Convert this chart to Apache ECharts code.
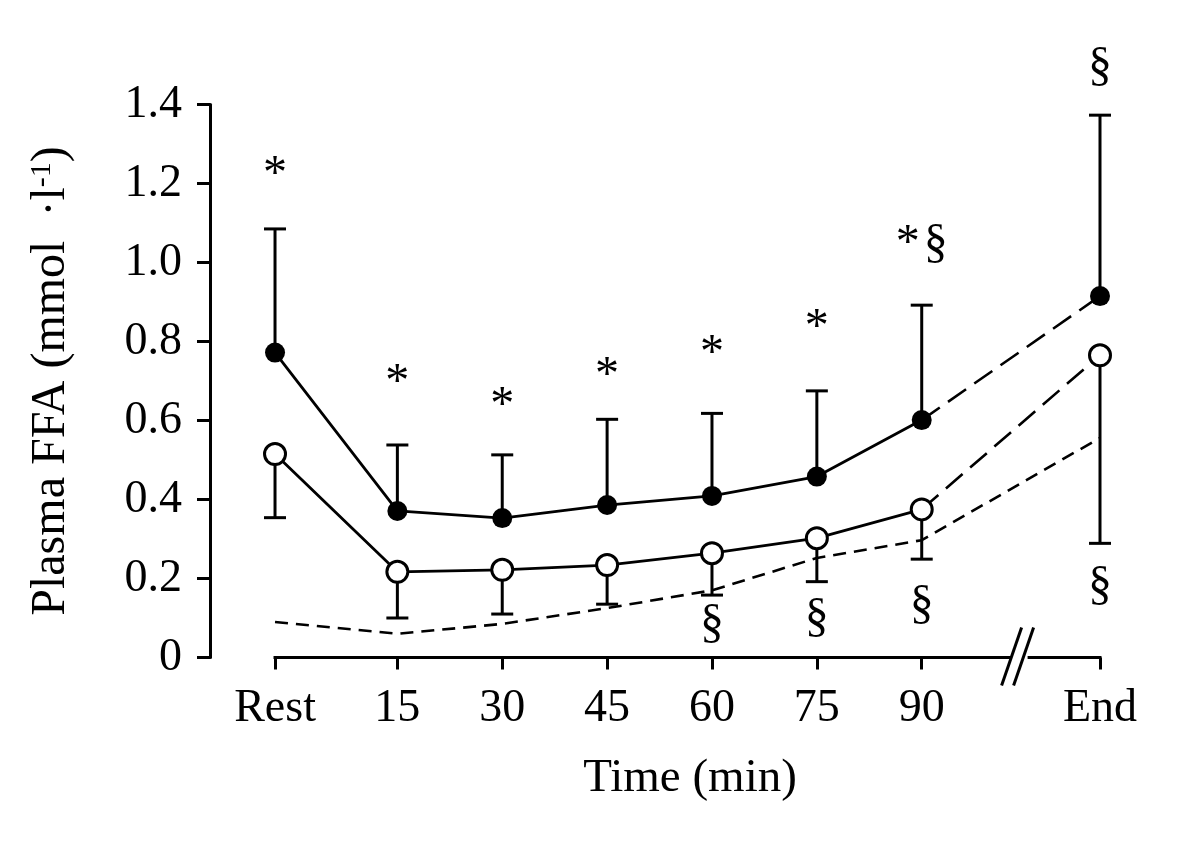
<!DOCTYPE html>
<html>
<head>
<meta charset="utf-8">
<script src="https://cdn.jsdelivr.net/npm/echarts@6/dist/echarts.min.js"></script>
<style>html,body{margin:0;padding:0;background:#fff;}#c{width:1200px;height:844px;}</style>
</head>
<body>
<div id="c"></div>
<script>
// ---- data ----
const catLabels = ['Rest', '15', '30', '45', '60', '75', '90', 'End'];
const xPos = [-2.5, 15, 30, 45, 60, 75, 90, 115.5];          // plotting position (min)
const xAxisStart = -11.8;                                     // axis range begins left of Rest
const filledMean = [0.772, 0.371, 0.353, 0.386, 0.409, 0.458, 0.601, 0.915];
const filledSD   = [0.313, 0.167, 0.160, 0.217, 0.209, 0.217, 0.291, 0.458];
const openMean   = [0.515, 0.217, 0.222, 0.234, 0.264, 0.302, 0.375, 0.765];
const openSD     = [0.161, 0.117, 0.112, 0.099, 0.106, 0.110, 0.126, 0.476];
const thirdLine  = [0.090, 0.060, 0.085, 0.125, 0.170, 0.252, 0.297, 0.556];
const aboveMarks = ['*', '*', '*', '*', '*', '*', '*\u200A§', '§'];
const aboveY     = [1.242, 0.713, 0.657, 0.733, 0.787, 0.854, 1.057, 1.495];
const belowMarks = ['', '', '', '', '§', '§', '§', '§'];
const belowY     = [null, null, null, null, 0.085, 0.098, 0.133, 0.180];
const breakAt = 104;

const FONT = "'Liberation Serif', 'Times New Roman', serif";
const lastSolid = 6;

const pts = (ys, from, to) => xPos.slice(from, to).map((x, i) => [x, ys[from + i]]);
const errUp = xPos.map((x, i) => [x, filledMean[i], filledMean[i] + filledSD[i]]);
const errDown = xPos.map((x, i) => [x, openMean[i], openMean[i] - openSD[i]]);
const annAbove = xPos.map((x, i) => [x, aboveY[i], aboveMarks[i]]);
const annBelow = xPos.map((x, i) => [x, belowY[i], belowMarks[i]]).filter(d => d[1] !== null);
const annTexts = [annAbove.map(d => d[2]), annBelow.map(d => d[2])];
const annSeriesAbove = 9;

function errRender(params, api) {
  const x = api.value(0), a = api.value(1), b = api.value(2);
  const p0 = api.coord([x, a]), p1 = api.coord([x, b]);
  return {
    type: 'group',
    children: [
      { type: 'line', shape: { x1: p0[0], y1: p0[1], x2: p1[0], y2: p1[1] }, style: { stroke: '#000', lineWidth: 3 } },
      { type: 'line', shape: { x1: p1[0] - 11, y1: p1[1], x2: p1[0] + 11, y2: p1[1] }, style: { stroke: '#000', lineWidth: 3 } }
    ]
  };
}

// annotation glyphs placed at data coordinates; '*' glyph sits high in the em box, nudge it down
function annRender(params, api) {
  const p = api.coord([api.value(0), api.value(1)]);
  const txt = annTexts[params.seriesIndex === annSeriesAbove ? 0 : 1][params.dataIndex];
  const nudge = txt.charAt(0) === '*' && txt.length === 1 ? 8 : (txt.length > 1 ? 4 : 0);
  return {
    type: 'text',
    x: p[0], y: p[1] + nudge,
    style: { text: txt, fill: '#000', font: '48px ' + FONT, align: 'center', verticalAlign: 'middle' }
  };
}

const chart = echarts.init(document.getElementById('c'), null, { renderer: 'canvas' });
const lineBase = { type: 'line', showSymbol: false, symbol: 'none', silent: true, z: 2 };

chart.setOption({
  backgroundColor: '#fff',
  animation: false,
  grid: { left: 210, right: 100, top: 104.5, bottom: 186.5, containLabel: false, outerBoundsMode: 'none' },
  xAxis: {
    type: 'value', min: xAxisStart, max: xPos[xPos.length - 1],
    name: 'Time (min)', nameLocation: 'middle', nameGap: 98,
    nameTextStyle: { fontFamily: FONT, fontSize: 47, color: '#000', padding: [0, 0, 0, 70] },
    axisLine: { show: false, onZero: false },
    axisTick: { show: true, inside: false, length: 12, lineStyle: { color: '#000', width: 3 }, customValues: xPos },
    axisLabel: {
      show: true, margin: 28, color: '#000', fontFamily: FONT, fontSize: 46, customValues: xPos,
      formatter: v => { const i = xPos.indexOf(v); return i >= 0 ? catLabels[i] : ''; }
    },
    splitLine: { show: false }
  },
  yAxis: {
    type: 'value', min: 0, max: 1.4, interval: 0.2,
    name: 'Plasma FFA (mmol  ·l{sup|-1})', nameLocation: 'middle', nameGap: 135,
    nameTextStyle: {
      fontFamily: FONT, fontSize: 48, color: '#000',
      rich: { sup: { fontFamily: FONT, fontSize: 30, color: '#000', verticalAlign: 'top', padding: [0, 0, 16, 0] } }
    },
    axisLine: { show: true, onZero: false, lineStyle: { color: '#000', width: 3 } },
    axisTick: { show: true, inside: false, length: 13, lineStyle: { color: '#000', width: 3 } },
    axisLabel: {
      show: true, margin: 28, color: '#000', fontFamily: FONT, fontSize: 46,
      formatter: v => (v === 0 ? '0' : v.toFixed(1))
    },
    splitLine: { show: false }
  },
  series: [
    Object.assign({}, lineBase, { data: pts(thirdLine, 0, xPos.length), lineStyle: { color: '#000', width: 2.6, type: [13, 8] } }),
    Object.assign({}, lineBase, { data: pts(filledMean, 0, lastSolid + 1), lineStyle: { color: '#000', width: 2.8 } }),
    Object.assign({}, lineBase, { data: pts(filledMean, lastSolid, xPos.length), lineStyle: { color: '#000', width: 2.6, type: [22, 10] } }),
    Object.assign({}, lineBase, { data: pts(openMean, 0, lastSolid + 1), lineStyle: { color: '#000', width: 2.8 } }),
    Object.assign({}, lineBase, { data: pts(openMean, lastSolid, xPos.length), lineStyle: { color: '#000', width: 2.6, type: [22, 10] } }),
    { type: 'custom', renderItem: errRender, data: errUp, z: 3, silent: true, clip: false },
    { type: 'custom', renderItem: errRender, data: errDown, z: 3, silent: true, clip: false },
    { type: 'scatter', data: pts(filledMean, 0, xPos.length), symbol: 'circle', symbolSize: 20, z: 5,
      itemStyle: { color: '#000', borderColor: '#000', borderWidth: 0, opacity: 1 }, silent: true },
    { type: 'scatter', data: pts(openMean, 0, xPos.length), symbol: 'circle', symbolSize: 21, z: 5,
      itemStyle: { color: '#fff', borderColor: '#000', borderWidth: 3, opacity: 1 }, silent: true },
    { type: 'custom', renderItem: annRender, data: annAbove.map(d => [d[0], d[1]]), clip: false, z: 6, silent: true },
    { type: 'custom', renderItem: annRender, data: annBelow.map(d => [d[0], d[1]]), clip: false, z: 6, silent: true }
  ]
});

// x-axis baseline from Rest to End, and the axis break marks "//"
const x0 = chart.convertToPixel({ xAxisIndex: 0 }, xPos[0]);
const x1 = chart.convertToPixel({ xAxisIndex: 0 }, xPos[xPos.length - 1]);
const bx = chart.convertToPixel({ xAxisIndex: 0 }, breakAt);
const by = chart.convertToPixel({ yAxisIndex: 0 }, 0);
chart.setOption({
  graphic: [
    { type: 'line', shape: { x1: x0 - 1.5, y1: by, x2: x1 + 1.5, y2: by }, style: { stroke: '#000', lineWidth: 3 }, z: 99 },
    { type: 'rect', shape: { x: bx - 8, y: by - 3, width: 16, height: 6 }, style: { fill: '#fff' }, z: 100 },
    { type: 'line', shape: { x1: bx - 18, y1: by + 28, x2: bx + 2, y2: by - 30 }, style: { stroke: '#000', lineWidth: 3 }, z: 101 },
    { type: 'line', shape: { x1: bx - 6, y1: by + 28, x2: bx + 14, y2: by - 30 }, style: { stroke: '#000', lineWidth: 3 }, z: 101 }
  ]
});
</script>
</body>
</html>
